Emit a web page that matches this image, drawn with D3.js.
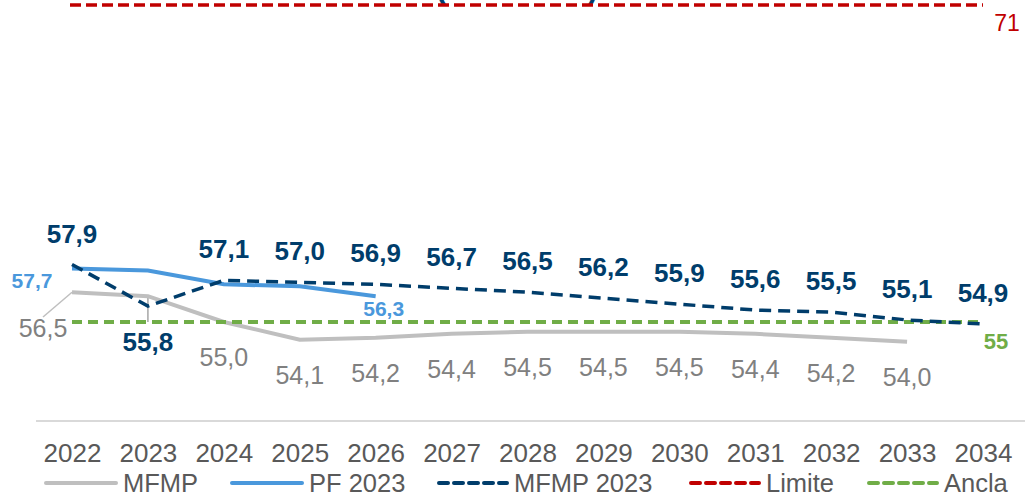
<!DOCTYPE html>
<html>
<head>
<meta charset="utf-8">
<script src="https://cdn.jsdelivr.net/npm/d3@7"></script>
<style>
  html, body { margin: 0; padding: 0; background: #fff; }
  svg { display: block; font-family: "Liberation Sans", Arial, sans-serif; }
</style>
</head>
<body>
<svg id="chart"></svg>
<script>
// values
let years = [2022, 2023, 2024, 2025, 2026, 2027, 2028, 2029, 2030, 2031, 2032, 2033, 2034];
let mfmp = [56.5, 56.3, 55.0, 54.1, 54.2, 54.4, 54.5, 54.5, 54.5, 54.4, 54.2, 54.0];
let pf2023 = [57.7, 57.6, 56.9, 56.8, 56.3];
let mfmp2023 = [57.9, 55.8, 57.1, 57.0, 56.9, 56.7, 56.5, 56.2, 55.9, 55.6, 55.5, 55.1, 54.9];
let limite = 71;
let ancla = 55;
let legendNames = ["MFMP", "PF 2023", "MFMP 2023", "Limite", "Ancla"];

let fmt = v => d3.format(".1f")(v).replace(".", ",");

let width = 1025, height = 497;
let svg = d3.select("#chart").attr("width", width).attr("height", height);

let x = d3.scalePoint().domain(years).range([72, 983]);
let y = d3.scaleLinear().domain([50, 71]).range([421, 5]);

let colors = {
  mfmp: "#bfbfbf",
  pf: "#4a98dc",
  navy: "#003d6b",
  red: "#c00000",
  green: "#70ad47",
  text: "#595959",
  grayText: "#808080"
};

// title, cut off by the top edge as in the reference
svg.append("text")
  .attr("x", 517).attr("y", -2)
  .attr("text-anchor", "middle")
  .style("font-size", "31px").style("font-weight", "bold")
  .style("fill", colors.navy)
  .text("(% del PIB)");

// x axis line and labels
svg.append("line")
  .attr("x1", 36).attr("x2", width)
  .attr("y1", y(50)).attr("y2", y(50))
  .style("stroke", "#d9d9d9").style("stroke-width", 2);

let xAxis = svg.append("g")
  .attr("transform", `translate(0,${y(50)})`)
  .call(d3.axisBottom(x).tickSize(0).tickPadding(0).tickFormat(d3.format("d")));
xAxis.select(".domain").remove();
xAxis.selectAll("text")
  .attr("y", 41).attr("dy", null)
  .style("font-size", "26px").style("fill", colors.text)
  .style("font-family", "'Liberation Sans', Arial, sans-serif");

let line = d3.line().x(d => x(d.year)).y(d => y(d.v));
let toPts = arr => arr.map((v, i) => ({ year: years[i], v: v }));

// leader lines for gray labels
svg.append("line")
  .attr("x1", 43).attr("y1", 317).attr("x2", x(2022)).attr("y2", y(mfmp[0]))
  .style("stroke", colors.mfmp).style("stroke-width", 1.5);
svg.append("line")
  .attr("x1", x(2023)).attr("y1", y(mfmp[1])).attr("x2", x(2023)).attr("y2", y(ancla))
  .style("stroke", "#a6a6a6").style("stroke-width", 1.5);

// MFMP
svg.append("path")
  .datum(toPts(mfmp))
  .attr("d", line)
  .style("fill", "none").style("stroke", colors.mfmp).style("stroke-width", 4);

// Ancla
svg.append("line")
  .attr("x1", x(2022)).attr("x2", x(2034))
  .attr("y1", y(ancla)).attr("y2", y(ancla))
  .style("stroke", colors.green).style("stroke-width", 4)
  .style("stroke-dasharray", "10,6");

// PF 2023
svg.append("path")
  .datum(toPts(pf2023))
  .attr("d", line)
  .style("fill", "none").style("stroke", colors.pf).style("stroke-width", 4);

// MFMP 2023
svg.append("path")
  .datum(toPts(mfmp2023))
  .attr("d", line)
  .style("fill", "none").style("stroke", colors.navy).style("stroke-width", 3.5)
  .style("stroke-dasharray", "12,7");

// Limite
svg.append("line")
  .attr("x1", 70).attr("x2", x(2034))
  .attr("y1", y(limite)).attr("y2", y(limite))
  .style("stroke", colors.red).style("stroke-width", 3.5)
  .style("stroke-dasharray", "11,5");

// labels: MFMP 2023
svg.append("g").selectAll("text")
  .data(toPts(mfmp2023))
  .join("text")
  .attr("x", d => x(d.year))
  .attr("y", d => d.year === 2023 ? y(d.v) + 45 : y(d.v) - 22)
  .attr("text-anchor", "middle")
  .style("font-size", "26px").style("font-weight", "bold")
  .style("fill", colors.navy)
  .text(d => fmt(d.v));

// labels: MFMP
svg.append("g").selectAll("text")
  .data(toPts(mfmp).filter(d => d.year !== 2023))
  .join("text")
  .attr("x", d => d.year === 2022 ? 43 : x(d.year))
  .attr("y", d => d.year === 2022 ? 337 : y(d.v) + 44)
  .attr("text-anchor", "middle")
  .style("font-size", "25px")
  .style("fill", colors.grayText)
  .text(d => fmt(d.v));

// labels: PF 2023 first and last
let pfPts = toPts(pf2023);
svg.append("g").selectAll("text")
  .data([pfPts[0], pfPts[pfPts.length - 1]])
  .join("text")
  .attr("x", (d, i) => i === 0 ? x(d.year) - 40 : x(d.year) + 8)
  .attr("y", d => y(d.v) + 20)
  .attr("text-anchor", "middle")
  .style("font-size", "21px").style("font-weight", "bold")
  .style("fill", colors.pf)
  .text(d => fmt(d.v));

// labels: Ancla, Limite
svg.append("text")
  .attr("x", 996).attr("y", y(ancla) + 27)
  .attr("text-anchor", "middle")
  .style("font-size", "22px").style("font-weight", "bold")
  .style("fill", colors.green)
  .text(ancla);
svg.append("text")
  .attr("x", 1007).attr("y", y(limite) + 26)
  .attr("text-anchor", "middle")
  .style("font-size", "23px")
  .style("fill", colors.red)
  .text(limite);

// legend
let legendItems = [
  { name: legendNames[0], color: colors.mfmp, dash: null, x: 46 },
  { name: legendNames[1], color: colors.pf, dash: null, x: 232 },
  { name: legendNames[2], color: colors.navy, dash: "9,6", x: 437 },
  { name: legendNames[3], color: colors.red, dash: "9,6", x: 689 },
  { name: legendNames[4], color: colors.green, dash: "9,6", x: 867 }
];

let legend = svg.append("g");
let item = legend.selectAll("g")
  .data(legendItems)
  .join("g")
  .attr("transform", d => `translate(${d.x},483)`);

item.append("line")
  .attr("x1", d => d.dash ? 2 : 0).attr("x2", 70)
  .attr("y1", 0).attr("y2", 0)
  .style("stroke", d => d.color)
  .style("stroke-width", 4)
  .style("stroke-linecap", "round")
  .style("stroke-dasharray", d => d.dash);

item.append("text")
  .attr("x", 77).attr("y", 8.5)
  .style("font-size", "25.5px")
  .style("fill", colors.text)
  .text(d => d.name);
</script>
</body>
</html>
